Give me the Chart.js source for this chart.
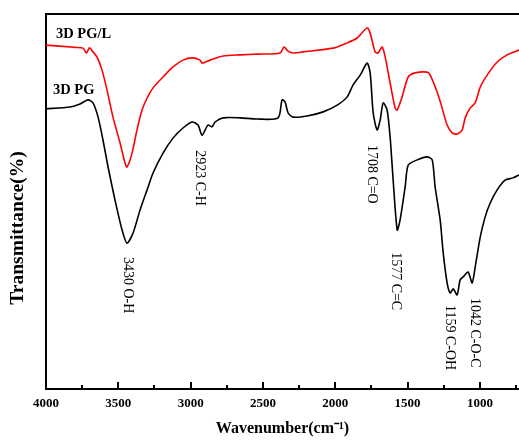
<!DOCTYPE html>
<html>
<head>
<meta charset="utf-8">
<script src="https://cdn.jsdelivr.net/npm/chart.js@4.4.1/dist/chart.umd.min.js"></script>
<style>
  html, body { margin: 0; padding: 0; background: #ffffff; overflow: hidden; }
  #wrap { width: 519px; height: 444px; }
</style>
</head>
<body>
<div id="wrap"><canvas id="c" width="519" height="444"></canvas></div>
<script>
// ---- data (wavenumber in cm-1, transmittance in arbitrary %) ----
const seriesNames = ['3D PG/L', '3D PG'];

const wnRed = [4000,3860,3800,3744,3720,3700,3675,3647,3613,3578,3537,3488,3454,3440,3405,3371,3336,3301,3260,3191,3122,3053,2990,2935,2921,2866,2776,2658,2541,2382,2354,2326,2292,2223,2015,1918,1849,1780,1759,1725,1704,1676,1655,1621,1586,1572,1538,1496,1448,1365,1344,1296,1261,1227,1192,1158,1123,1102,1068,1033,998,950,881,812,729];
const tRed  = [91.7,91.3,91.1,90.9,89.6,91.0,89.9,88.5,85.1,79.7,72.5,65.6,60.3,59.2,62.9,69.1,74.4,77.6,80.3,83.2,85.9,87.7,88.3,87.7,86.9,87.7,88.8,89.1,89.3,89.6,91.2,90.1,89.6,89.9,90.9,92.3,93.6,96.3,94.9,89.9,89.6,91.2,88.5,81.6,74.9,74.4,77.9,83.2,84.3,84.5,83.7,79.2,74.9,70.4,68.3,68.0,69.1,72.3,74.9,76.3,80.5,83.7,87.2,89.1,90.4];

const wnBlack = [4000,3834,3765,3710,3675,3640,3606,3571,3523,3474,3440,3398,3350,3301,3260,3191,3122,3053,2990,2949,2921,2880,2852,2831,2776,2658,2541,2396,2368,2347,2326,2292,2195,2084,1987,1918,1877,1828,1780,1759,1738,1711,1690,1669,1642,1621,1600,1572,1552,1517,1496,1434,1365,1330,1310,1275,1254,1227,1206,1185,1158,1137,1116,1082,1054,1033,998,964,929,881,826,771,729];
const tBlack  = [74.7,75.2,76.0,77.1,76.3,72.5,66.4,59.2,50.4,42.4,38.9,41.6,47.7,53.1,57.6,62.9,66.9,69.6,71.2,70.4,67.7,70.4,69.9,71.2,72.3,72.3,72.0,72.3,77.1,76.5,73.6,72.5,72.8,73.9,75.7,77.9,81.1,83.7,86.9,84.3,73.6,69.1,71.7,76.3,74.4,67.2,55.7,42.4,45.1,53.9,59.7,61.1,61.9,61.1,53.9,45.1,36.3,28.3,25.6,26.7,25.1,29.1,29.9,31.2,28.3,32.5,40.5,45.9,49.6,53.1,55.7,56.3,57.1];

const xTickValues = [4000,3750,3500,3250,3000,2750,2500,2250,2000,1750,1500,1250,1000,750];

const annLabels = ['3430 O-H','2923 C-H','1708 C=O','1577 C=C','1159 C-OH','1042 C-O-C'];
const annWn     = [3433, 2935, 1747, 1586, 1206, 1033];
const annT      = [35.2, 63.7, 65.1, 36.5, 22.4, 24.3];

const nameWn = [3931, 3952];
const nameT  = [94.7, 79.7];

const xTitle = 'Wavenumber(cm\u207B\u00B9)';
const yTitle = 'Transmittance(%)';

// ---- helpers ----
const toPts = (xs, ys) => xs.map((x, i) => ({ x: x, y: ys[i] }));
const SERIF = '"Liberation Serif", "Times New Roman", serif';

const decorPlugin = {
  id: 'decor',
  afterDraw(chart) {
    const ctx = chart.ctx;
    const xs = chart.scales.x, ys = chart.scales.y;
    const ca = chart.chartArea;
    ctx.save();
    // top frame line
    ctx.strokeStyle = '#000';
    ctx.lineWidth = 2;
    ctx.beginPath();
    ctx.moveTo(ca.left - 1, ca.top);
    ctx.lineTo(chart.width, ca.top);
    ctx.stroke();
    // inward tick marks on x axis
    xTickValues.forEach(v => {
      const px = Math.round(xs.getPixelForValue(v));
      const len = (v % 500 === 0) ? 7 : 4;
      ctx.beginPath();
      ctx.moveTo(px, ca.bottom);
      ctx.lineTo(px, ca.bottom - len);
      ctx.stroke();
    });
    // series names
    ctx.fillStyle = '#000';
    ctx.font = 'bold 14.5px ' + SERIF;
    ctx.textAlign = 'left';
    ctx.textBaseline = 'middle';
    seriesNames.forEach((n, i) => {
      ctx.fillText(n, xs.getPixelForValue(nameWn[i]), ys.getPixelForValue(nameT[i]));
    });
    // peak annotations (rotated, reading downward)
    ctx.font = '14px ' + SERIF;
    annLabels.forEach((lab, i) => {
      ctx.save();
      ctx.translate(xs.getPixelForValue(annWn[i]), ys.getPixelForValue(annT[i]));
      ctx.rotate(Math.PI / 2);
      ctx.textAlign = 'left';
      ctx.textBaseline = 'middle';
      ctx.fillText(lab, 0, 0);
      ctx.restore();
    });
    // y axis title
    ctx.save();
    ctx.font = 'bold 19.5px ' + SERIF;
    ctx.translate(18, 228);
    ctx.rotate(-Math.PI / 2);
    ctx.textAlign = 'center';
    ctx.textBaseline = 'middle';
    ctx.fillText(yTitle, 0, 0);
    ctx.restore();
    ctx.restore();
  }
};

new Chart(document.getElementById('c'), {
  type: 'line',
  data: {
    datasets: [
      { label: seriesNames[0], data: toPts(wnRed, tRed), borderColor: '#ff0000', borderWidth: 1.6, pointRadius: 0, tension: 0.25, fill: false },
      { label: seriesNames[1], data: toPts(wnBlack, tBlack), borderColor: '#000000', borderWidth: 1.6, pointRadius: 0, tension: 0.25, fill: false }
    ]
  },
  options: {
    responsive: false,
    animation: false,
    devicePixelRatio: 1,
    layout: { padding: { top: 14, right: 0, left: 0, bottom: 0 } },
    plugins: { legend: { display: false }, tooltip: { enabled: false } },
    scales: {
      x: {
        type: 'linear',
        reverse: true,
        min: 730,
        max: 4000,
        afterBuildTicks: (s) => { s.ticks = xTickValues.map(v => ({ value: v })); },
        afterFit: (s) => { s.height = 55; s.paddingRight = 0; s.paddingLeft = 0; },
        grid: { display: false, drawTicks: false },
        border: { display: true, color: '#000', width: 2 },
        ticks: {
          autoSkip: false,
          maxRotation: 0,
          padding: 7,
          color: '#000',
          font: { family: SERIF, size: 13, weight: 'bold' },
          callback: (v) => (v % 500 === 0 ? String(v) : '')
        },
        title: {
          display: true,
          text: xTitle,
          color: '#000',
          font: { family: SERIF, size: 16, weight: 'bold' },
          padding: { top: 0, bottom: 6 }
        }
      },
      y: {
        type: 'linear',
        min: 0,
        max: 100,
        afterFit: (s) => { s.width = 46; s.paddingTop = 0; s.paddingBottom = 0; },
        grid: { display: false, drawTicks: false },
        border: { display: true, color: '#000', width: 2 },
        ticks: { display: false },
        title: { display: false }
      }
    }
  },
  plugins: [decorPlugin]
});
</script>
</body>
</html>
